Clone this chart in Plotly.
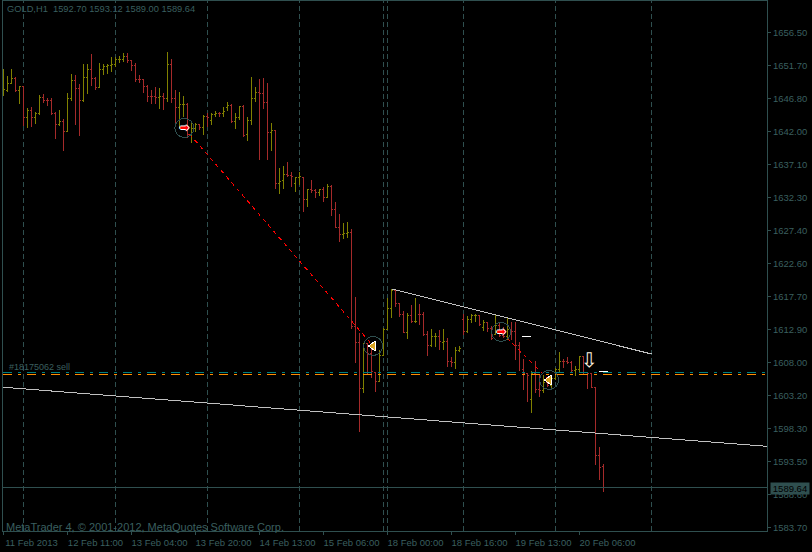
import plotly.graph_objects as go

opens = [1648.06,1648.06,1649.05,1649.79,1647.96,1648.55,1644.05,1645.12,1644.05,1644.64,
1646.99,1646.59,1646.45,1644.64,1642.92,1643.40,1641.93,1646.74,1649.39,1648.31,
1646.45,1649.93,1651.01,1649.79,1648.40,1651.01,1651.49,1651.64,1651.74,1652.48,
1652.58,1652.96,1652.33,1651.64,1649.64,1649.54,1648.65,1647.08,1647.06,1646.89,
1647.04,1646.74,1651.74,1646.84,1645.42,1645.86,1646.00,1641.59,1642.33,1642.92,
1642.48,1644.14,1643.65,1644.39,1644.68,1644.54,1645.42,1645.71,1643.36,1643.95,
1645.61,1641.59,1643.65,1646.84,1647.73,1647.58,1646.26,1641.84,1642.04,1634.34,
1634.79,1635.67,1635.56,1634.24,1635.17,1635.23,1631.89,1633.36,1633.26,1632.96,
1633.36,1632.28,1633.84,1630.42,1627.87,1626.74,1627.00,1627.14,1613.26,1610.96,
1604.20,1610.81,1609.34,1606.55,1605.17,1609.09,1612.87,1616.00,1618.65,1616.70,
1614.98,1612.33,1614.83,1613.95,1615.12,1614.98,1612.18,1610.42,1611.74,1611.74,
1611.00,1611.15,1608.11,1607.92,1609.73,1614.34,1612.52,1614.34,1614.83,1614.90,
1613.21,1613.80,1612.92,1612.18,1613.36,1612.03,1611.74,1612.77,1612.62,1610.42,
1607.03,1606.30,1602.62,1606.30,1603.95,1603.80,1605.12,1604.68,1605.71,1606.89,
1608.21,1608.14,1608.06,1606.74,1607.03,1608.87,1606.45,1606.30,1604.24,1594.28,1592.70]
highs = [1651.15,1650.12,1651.15,1649.93,1648.65,1648.65,1645.37,1645.52,1644.87,1647.33,
1647.43,1646.84,1646.84,1644.87,1645.12,1643.76,1647.58,1650.42,1650.27,1648.95,
1651.89,1651.89,1653.36,1649.93,1652.08,1651.89,1651.89,1652.87,1652.87,1653.06,
1653.46,1653.55,1652.40,1652.00,1650.27,1649.64,1648.80,1648.06,1648.46,1648.31,
1647.58,1653.65,1652.58,1648.06,1647.77,1647.18,1646.11,1643.17,1643.17,1643.06,
1644.39,1644.73,1644.64,1645.02,1644.87,1645.52,1646.34,1646.00,1644.64,1645.76,
1645.86,1644.14,1649.93,1648.46,1649.68,1649.79,1649.05,1643.17,1642.18,1636.55,
1636.89,1637.43,1636.05,1635.23,1635.96,1635.31,1633.51,1634.83,1633.51,1633.51,
1633.84,1634.24,1634.09,1631.55,1629.83,1628.46,1628.61,1627.58,1617.58,1612.33,
1610.81,1610.86,1610.56,1606.64,1609.83,1613.02,1617.48,1618.80,1618.65,1616.70,
1615.60,1615.27,1616.45,1617.48,1616.59,1615.42,1612.62,1612.92,1612.33,1612.77,
1612.92,1611.59,1608.84,1610.31,1610.46,1615.08,1614.87,1615.12,1615.12,1615.00,
1614.24,1613.80,1613.36,1614.98,1613.80,1613.21,1614.53,1613.99,1613.99,1611.00,
1608.51,1606.30,1606.74,1608.21,1606.30,1606.15,1605.71,1605.86,1607.18,1609.49,
1608.51,1608.76,1608.14,1607.48,1608.95,1608.95,1606.64,1606.30,1604.43,1595.61,1593.12]
lows = [1647.18,1647.81,1648.95,1647.81,1646.00,1642.77,1642.43,1642.67,1643.02,1644.39,
1646.20,1645.71,1644.39,1640.81,1642.77,1639.09,1641.93,1646.45,1642.92,1641.30,
1646.34,1647.48,1648.65,1648.06,1648.36,1650.27,1650.42,1650.76,1651.49,1652.00,
1652.23,1652.00,1650.90,1649.28,1649.14,1647.58,1646.34,1646.00,1646.00,1645.23,
1645.12,1646.34,1646.20,1642.62,1642.48,1644.14,1641.05,1640.31,1641.93,1642.18,
1641.45,1642.58,1642.92,1644.05,1644.05,1644.05,1645.02,1643.17,1642.29,1643.65,
1641.20,1640.61,1642.92,1646.34,1637.77,1645.27,1637.77,1639.14,1633.51,1632.77,
1633.51,1635.31,1633.84,1633.11,1634.09,1630.17,1630.81,1632.87,1632.14,1632.48,
1631.64,1632.14,1629.58,1627.73,1625.76,1626.11,1626.26,1612.92,1607.87,1597.81,
1603.46,1606.15,1605.71,1603.70,1605.08,1609.09,1612.87,1614.49,1616.20,1614.68,
1612.28,1611.45,1613.80,1613.80,1613.50,1611.89,1608.95,1610.31,1610.27,1609.83,
1609.83,1607.33,1607.33,1607.04,1609.58,1612.04,1612.37,1613.76,1613.99,1613.36,
1612.67,1612.52,1611.30,1612.04,1611.74,1611.59,1611.30,1611.30,1608.36,1606.74,
1603.95,1602.23,1600.61,1603.55,1602.96,1603.55,1604.39,1604.24,1605.42,1606.40,
1607.18,1607.77,1606.64,1606.05,1606.64,1606.30,1604.05,1604.24,1592.92,1590.71,1589.00]
closes = [1648.17,1649.05,1649.79,1647.96,1648.55,1644.05,1645.12,1644.05,1644.64,1646.99,
1646.59,1646.45,1644.64,1642.92,1643.40,1641.93,1646.74,1649.39,1648.31,1646.45,
1649.93,1651.01,1649.79,1648.40,1651.01,1651.49,1651.64,1651.74,1652.48,1652.58,
1652.96,1652.33,1651.64,1649.64,1649.54,1648.65,1647.08,1647.06,1646.99,1647.04,
1646.74,1651.74,1646.84,1645.42,1645.86,1646.00,1641.59,1642.33,1642.92,1642.48,
1644.14,1644.09,1644.39,1644.68,1644.54,1644.83,1645.71,1643.36,1643.95,1645.61,
1641.30,1643.65,1646.84,1647.73,1647.58,1646.26,1641.84,1642.04,1634.34,1634.68,
1635.67,1635.56,1635.31,1635.17,1635.31,1631.99,1633.36,1633.26,1632.96,1633.36,
1632.28,1633.84,1630.42,1627.87,1626.74,1627.00,1627.14,1613.26,1610.96,1604.20,
1610.81,1609.34,1606.64,1605.17,1609.09,1612.87,1616.00,1618.65,1616.70,1614.98,
1612.33,1614.83,1613.95,1614.02,1614.98,1612.18,1610.56,1611.74,1611.81,1611.05,
1611.15,1608.11,1608.06,1609.73,1610.08,1612.52,1614.34,1614.83,1614.90,1613.65,
1613.80,1612.92,1611.59,1613.36,1612.03,1611.74,1612.77,1612.62,1610.42,1609.53,
1606.30,1606.15,1606.30,1603.95,1603.80,1605.12,1604.68,1605.71,1607.03,1608.21,
1608.14,1608.06,1606.74,1607.03,1608.87,1606.45,1606.30,1604.24,1594.28,1592.58,1589.64]
bar_index = list(range(len(closes)))

time_tick_index = [0, 16, 32, 48, 64, 80, 96, 112, 128, 144]
time_tick_text = ["11 Feb 2013", "12 Feb 11:00", "13 Feb 04:00", "13 Feb 20:00", "14 Feb 13:00",
                  "15 Feb 06:00", "18 Feb 00:00", "18 Feb 16:00", "19 Feb 13:00", "20 Feb 06:00"]
price_ticks = [1656.50, 1651.65, 1646.80, 1641.95, 1637.10, 1632.25, 1627.40, 1622.55,
               1617.70, 1612.85, 1608.00, 1603.15, 1598.30, 1593.45, 1588.60, 1583.75]
price_labels = ["1656.50", "1651.70", "1646.80", "1642.00", "1637.10", "1632.30", "1627.40", "1622.60",
                "1617.70", "1612.90", "1608.00", "1603.20", "1598.30", "1593.50", "1588.60", "1583.70"]
period_index = [5, 28, 51, 74, 95, 96, 115, 138, 162]

upper_trend_x = [97, 162]
upper_trend_y = [1618.80, 1609.24]
lower_trend_x = [-0.125, 190.875]
lower_trend_y = [1604.35, 1595.66]
trade1_x = [45.2, 92.4]
trade1_y = [1642.48, 1610.42]
trade2_x = [124.4, 136.4]
trade2_y = [1612.48, 1605.42]
order_teal = 1606.55
order_orange = 1606.26
last_price_line = 1589.55

FRAME = "#2f4f4f"
TEXT = "#3a5f5f"
FONT = "Liberation Sans"
PLOT_L, PLOT_R = 3, 767
PLOT_T, PLOT_B = 1, 531
X_RANGE = [-0.125, 190.875]
Y_RANGE = [1583.21, 1661.15]

fig = go.Figure()

for xv in period_index:
    fig.add_shape(type="line", xref="x", yref="paper", x0=xv, x1=xv, y0=0, y1=1, layer="below",
                  line=dict(color=FRAME, width=1, dash="5px,3px"))

fig.add_trace(go.Ohlc(x=bar_index, open=opens, high=highs, low=lows, close=closes, tickwidth=0.4,
                      increasing=dict(line=dict(color="#808000", width=1)),
                      decreasing=dict(line=dict(color="#a52a2a", width=1)),
                      hoverinfo="skip", showlegend=False))


def line(x, y, color, dash="solid", width=1):
    fig.add_trace(go.Scatter(x=x, y=y, mode="lines", line=dict(color=color, width=width, dash=dash),
                             hoverinfo="skip", showlegend=False))


line(X_RANGE, [last_price_line, last_price_line], FRAME)
line(lower_trend_x, lower_trend_y, "#c0c0c0")
line(upper_trend_x, upper_trend_y, "#c0c0c0")
line(X_RANGE, [order_teal, order_teal], "#008080", "9px,6px,3px,6px")
line(X_RANGE, [order_orange, order_orange], "#ff8c00", "9px,6px,3px,6px")
line(trade1_x, trade1_y, "#ff0000", "4px,4px")
line(trade2_x, trade2_y, "#ff0000", "4px,4px")


def marks(x, y, symbol, size, color, edge, edge_w=1):
    fig.add_trace(go.Scatter(x=x, y=y, mode="markers",
                             marker=dict(symbol=symbol, size=size, color=color, line=dict(color=edge, width=edge_w)),
                             hoverinfo="skip", showlegend=False))


marks([trade1_x[0], trade2_x[0], trade1_x[1], trade2_x[1]],
      [trade1_y[0], trade2_y[0], trade1_y[1], trade2_y[1]], "circle-open", 19, FRAME, FRAME)
fig.add_trace(go.Scatter(x=[trade1_x[0], trade2_x[0]], y=[trade1_y[0], trade2_y[0]], mode="text", text=["\u27a1", "\u27a1"],
                         textfont=dict(family="DejaVu Sans", size=11, color="#ff0000",
                                       shadow="1px 0 #fff, -1px 0 #fff, 0 1px #fff, 0 -1px #fff"),
                         textposition="middle center", hoverinfo="skip", showlegend=False))
marks([trade1_x[1], trade2_x[1]], [trade1_y[1], trade2_y[1]], "triangle-left", 9, "#daa520", "#ffffff")
marks([130.75, 150], [1611.75, 1606.6], "line-ew-open", 7, "#ffffff", "#ffffff")
fig.add_trace(go.Scatter(x=[146.4], y=[1608.05], mode="text", text=["\u21e9"],
                         textfont=dict(family="DejaVu Sans", size=20, color="#fff5e0"),
                         textposition="middle center", hoverinfo="skip", showlegend=False))


def px_x(x):
    return (x - PLOT_L) / (PLOT_R - PLOT_L)


def px_y(y):
    return 1 - (y - PLOT_T) / (PLOT_B - PLOT_T)


def note(x, y, text, size):
    fig.add_annotation(xref="paper", yref="paper", x=px_x(x), y=px_y(y), text=text, showarrow=False,
                       xanchor="left", yanchor="middle", xshift=0, borderpad=0,
                       font=dict(family=FONT, size=size, color=TEXT))


note(6, 9, "GOLD,H1  1592.70 1593.12 1589.00 1589.64", 9.3)
note(8, 367, "#18175062 sell", 9)
note(5, 527, "MetaTrader 4, \u00a9 2001-2012, MetaQuotes Software Corp.", 11)
fig.add_annotation(xref="paper", yref="paper", x=px_x(770), y=px_y(488), text="1589.64", showarrow=False,
                   xanchor="left", yanchor="middle", bgcolor=FRAME, borderpad=0, width=38, height=11, align="center",
                   font=dict(family=FONT, size=9.5, color="#000000"))

fig.update_layout(
    width=812, height=552, autosize=False,
    margin=dict(l=PLOT_L, r=812 - PLOT_R, t=PLOT_T, b=552 - PLOT_B, pad=0),
    paper_bgcolor="#000000", plot_bgcolor="#000000", showlegend=False, dragmode=False,
    xaxis=dict(range=X_RANGE, rangeslider=dict(visible=False), showgrid=False, zeroline=False,
               showline=True, mirror=True, linecolor=FRAME, linewidth=1,
               tickmode="array", tickvals=time_tick_index, ticktext=time_tick_text,
               ticks="outside", ticklen=3, tickcolor=FRAME, ticklabelshift=28, ticklabeloverflow="allow",
               tickangle=0, tickfont=dict(family=FONT, size=9.5, color=TEXT)),
    yaxis=dict(range=Y_RANGE, side="right", showgrid=False, zeroline=False,
               showline=True, mirror=True, linecolor=FRAME, linewidth=1,
               tickmode="array", tickvals=price_ticks, ticktext=price_labels,
               ticks="outside", ticklen=3, tickcolor=FRAME,
               tickfont=dict(family=FONT, size=9.5, color=TEXT)),
)

post = """
document.documentElement.style.overflow='hidden';
document.body.style.margin='0';
document.body.style.background='#000';
function crisp(){document.querySelectorAll('svg path').forEach(function(p){p.style.shapeRendering='crispEdges';});}
crisp(); setTimeout(crisp,0);
"""
fig.write_html("out.html", post_script=post, config=dict(displayModeBar=False, responsive=False))
